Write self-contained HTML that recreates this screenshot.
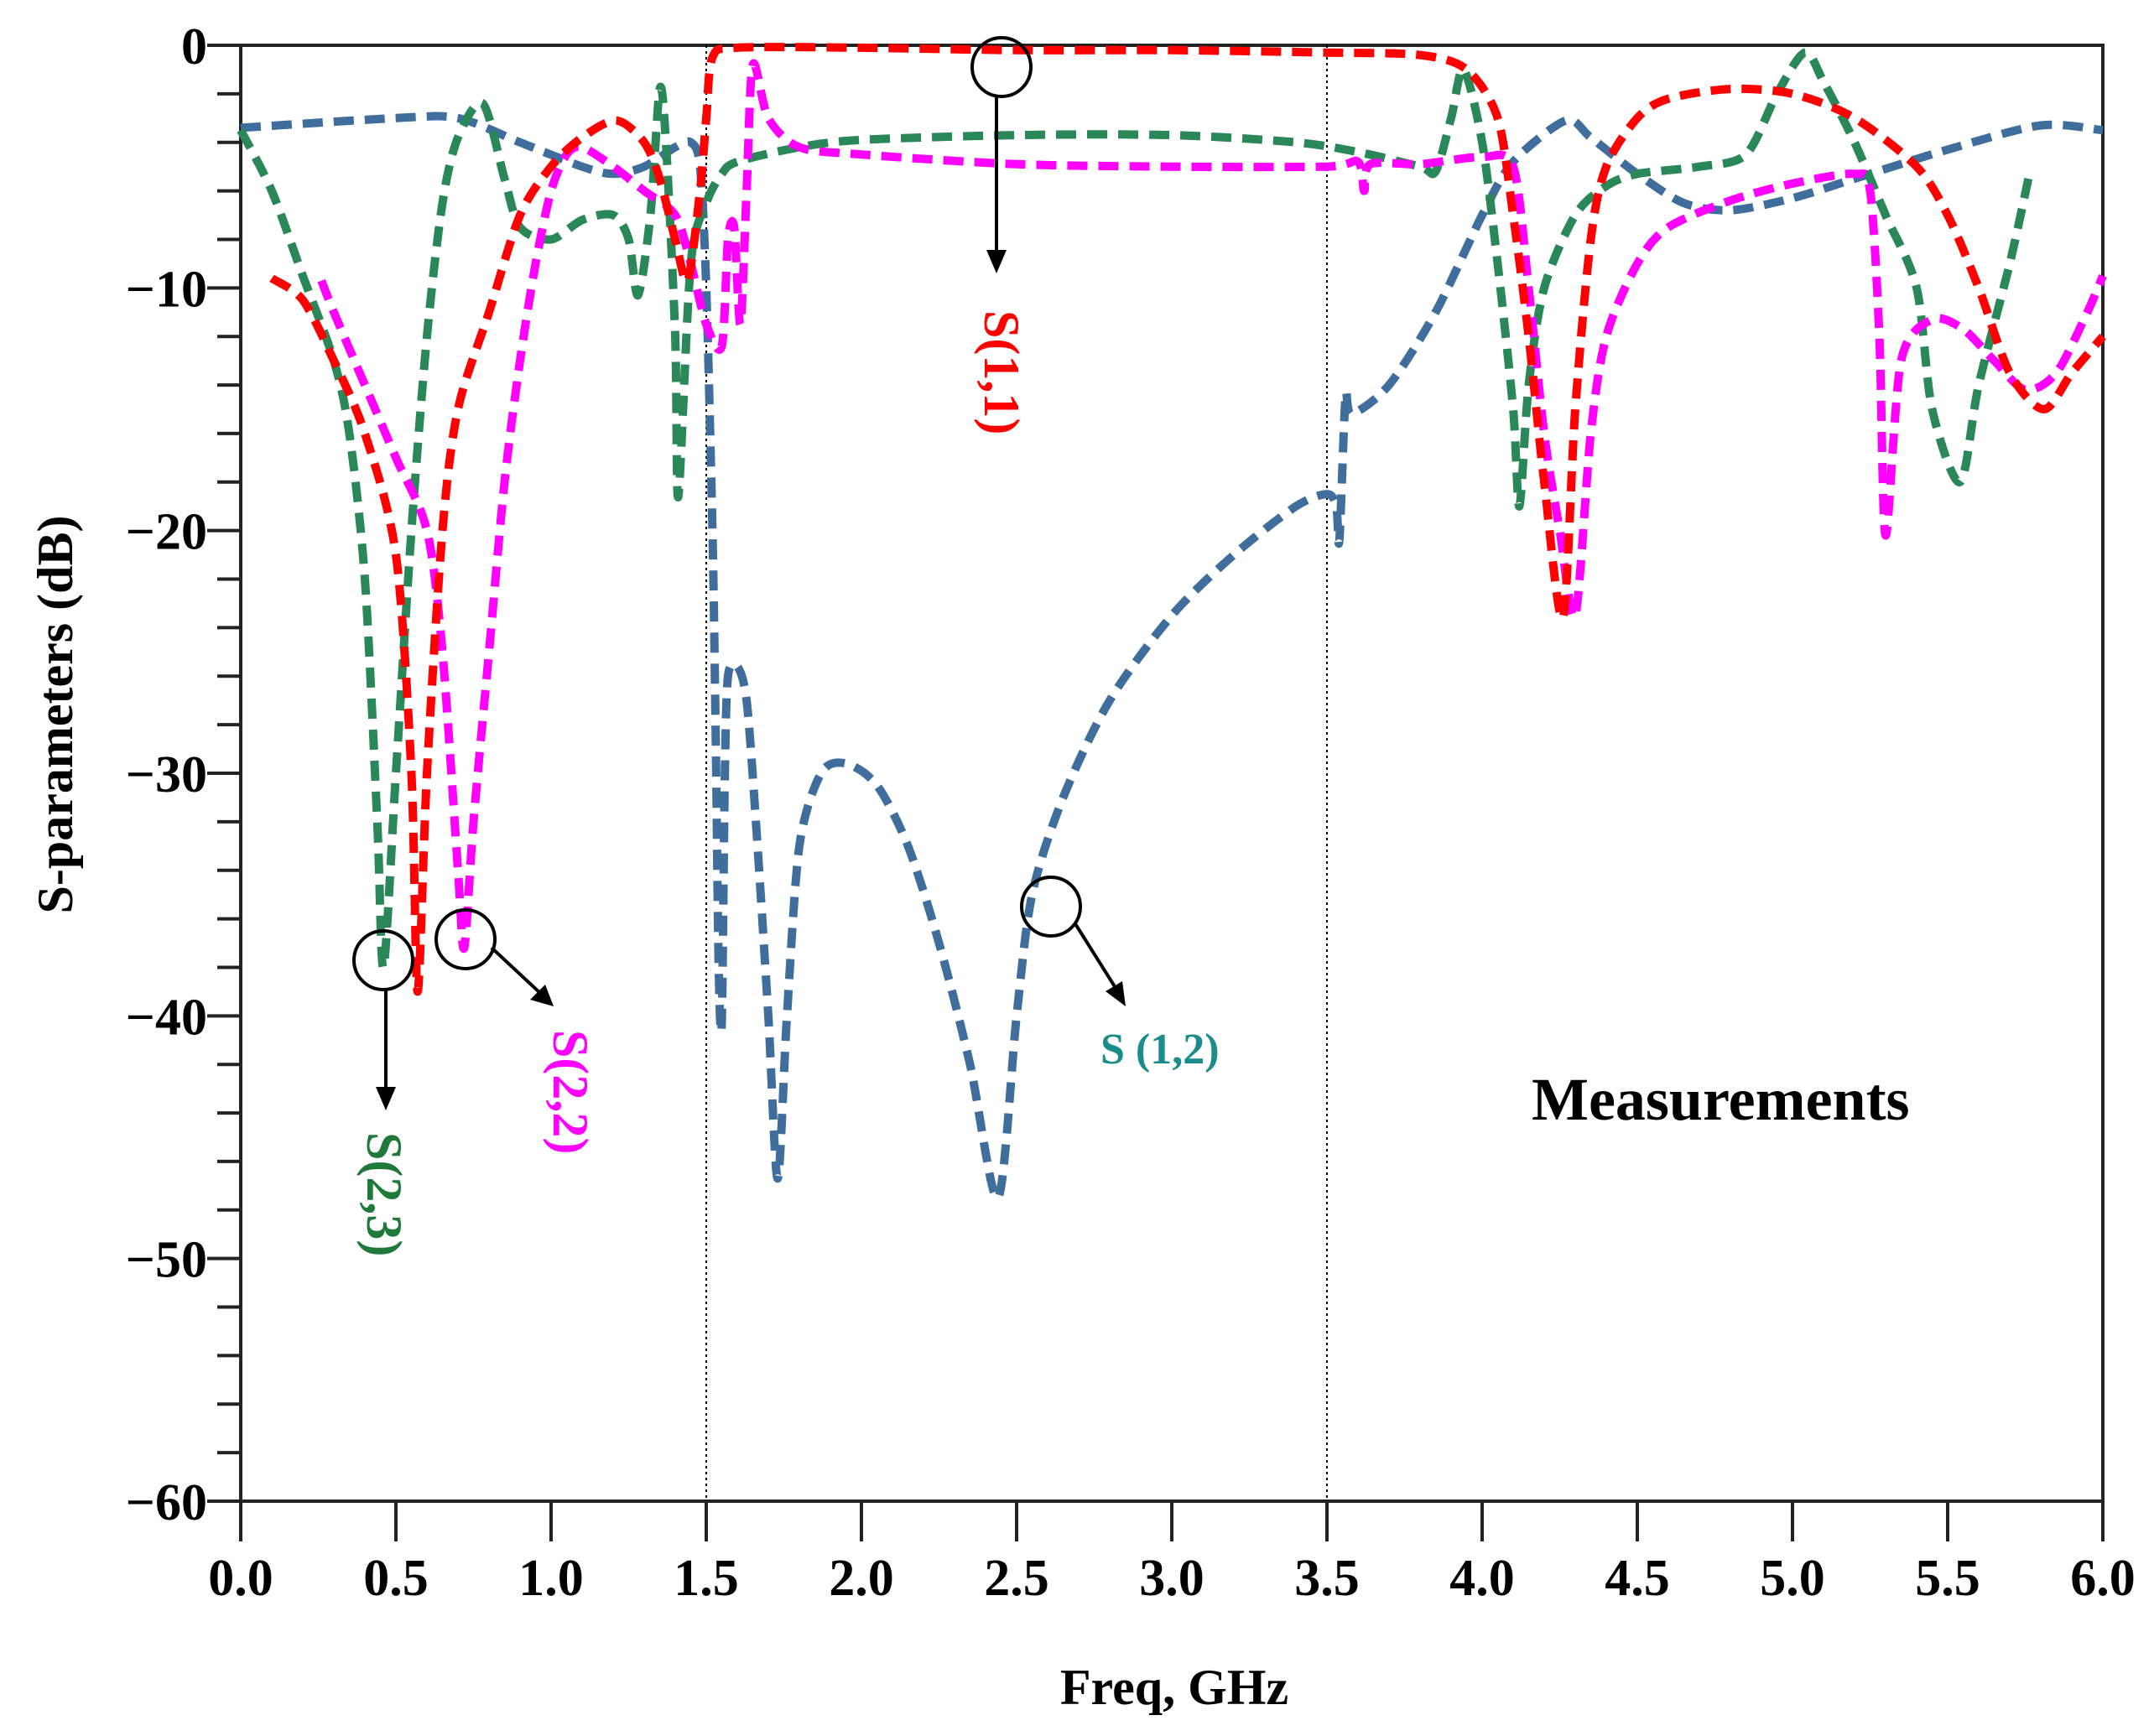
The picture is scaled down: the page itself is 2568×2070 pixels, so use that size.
<!DOCTYPE html>
<html><head><meta charset="utf-8"><style>
html,body{margin:0;padding:0;background:#fff;}
svg{display:block;}
text{font-family:"Liberation Serif",serif;font-weight:bold;}
</style></head><body>
<svg id="chart" width="2568" height="2070" viewBox="0 0 2568 2070" xmlns="http://www.w3.org/2000/svg">
<g id="axes"></g>
<g id="series"></g>
<g id="annot">
  <circle cx="1194" cy="80" r="35" fill="none" stroke="#000" stroke-width="4"/>
  <line x1="1188" y1="116" x2="1188" y2="300" stroke="#000" stroke-width="4"/>
  <polygon points="1176,298 1200,298 1188,326" fill="#000"/>
  <text transform="translate(1174,370) rotate(90)" font-size="60" fill="#ff0000">S(1,1)</text>

  <circle cx="457" cy="1145" r="35" fill="none" stroke="#000" stroke-width="4"/>
  <line x1="460" y1="1181" x2="460" y2="1298" stroke="#000" stroke-width="4"/>
  <polygon points="448,1296 472,1296 460,1324" fill="#000"/>
  <text transform="translate(438,1350) rotate(90)" font-size="60" fill="#1f7a3a">S(2,3)</text>

  <circle cx="555" cy="1120" r="35" fill="none" stroke="#000" stroke-width="4"/>
  <line x1="586" y1="1130" x2="645" y2="1185" stroke="#000" stroke-width="4"/>
  <polygon points="632,1192 650,1174 660,1200" fill="#000"/>
  <text transform="translate(660,1228) rotate(90)" font-size="60" fill="#ff00ff">S(2,2)</text>

  <circle cx="1253" cy="1081" r="35" fill="none" stroke="#000" stroke-width="4"/>
  <line x1="1281" y1="1100" x2="1330" y2="1178" stroke="#000" stroke-width="4"/>
  <polygon points="1318,1182 1338,1170 1342,1200" fill="#000"/>
  <text x="1312" y="1268" font-size="52" fill="#1a8c8c">S (1,2)</text>

  <text x="1826" y="1335" font-size="72" fill="#000">Measurements</text>
</g>
</svg>
<script>
const freqTicks = [0,0.5,1,1.5,2,2.5,3,3.5,4,4.5,5,5.5,6];
const freqTickLabels = ["0.0","0.5","1.0","1.5","2.0","2.5","3.0","3.5","4.0","4.5","5.0","5.5","6.0"];
const dbTicks = [0,-10,-20,-30,-40,-50,-60];
const dbTickLabels = ["0","\u221210","\u221220","\u221230","\u221240","\u221250","\u221260"];
const markerLines = [1.5,3.5];

const s11Freq = [0.1,0.2,0.3,0.4,0.5,0.55,0.57,0.6,0.65,0.7,0.8,0.9,1.0,1.1,1.21,1.3,1.35,1.4,1.44,1.48,1.5,1.52,1.6,2.0,2.5,3.0,3.5,3.8,3.95,4.05,4.1,4.15,4.2,4.26,4.3,4.35,4.4,4.5,4.6,4.8,5.0,5.2,5.4,5.5,5.6,5.7,5.81,5.9,6.0];
const s11Db = [-9.6,-10.5,-13,-16,-21,-30,-39,-30,-20,-15,-11,-7,-5,-3.8,-3.1,-4,-5.5,-8,-9.7,-6,-3,-0.5,-0.1,-0.1,-0.2,-0.2,-0.3,-0.4,-1,-3,-7,-12,-18,-23.6,-15,-8,-5,-3,-2.2,-1.8,-2.0,-3,-5,-7,-10,-13.5,-15,-13.5,-12];

const s22Freq = [0.26,0.3,0.4,0.5,0.6,0.65,0.7,0.72,0.75,0.8,0.85,0.9,0.95,1.0,1.05,1.1,1.2,1.3,1.4,1.45,1.5,1.55,1.57,1.59,1.61,1.63,1.65,1.7,1.8,2.0,2.5,3.0,3.5,3.6,3.62,3.64,3.8,4.0,4.1,4.15,4.2,4.25,4.3,4.35,4.4,4.5,4.6,4.8,5.0,5.2,5.25,5.28,5.3,5.35,5.45,5.55,5.65,5.75,5.85,5.95,6.0];
const s22Db = [-9.7,-11,-14,-17,-20,-25,-34,-37.2,-32,-25,-18,-13,-9,-6,-4.5,-4.2,-5,-6,-7,-9,-11.5,-12.4,-8,-7.5,-11.5,-6,-0.8,-3,-4.2,-4.5,-4.9,-5,-5,-4.8,-6,-4.9,-4.9,-4.6,-5,-10,-16,-20,-23.5,-16,-12,-9,-7.5,-6.4,-5.7,-5.3,-6,-12,-20.2,-13,-11.3,-11.7,-13,-14.2,-13.5,-11,-9.5];

const s23Freq = [0,0.1,0.2,0.3,0.35,0.4,0.44,0.46,0.5,0.55,0.6,0.65,0.7,0.78,0.85,0.9,1.0,1.1,1.2,1.25,1.28,1.32,1.35,1.37,1.4,1.41,1.45,1.5,1.55,1.6,1.8,2.0,2.5,3.0,3.4,3.6,3.8,3.85,3.9,3.94,4.0,4.05,4.1,4.12,4.15,4.2,4.3,4.4,4.5,4.7,4.85,4.95,5.04,5.1,5.2,5.3,5.4,5.45,5.54,5.6,5.7,5.76];
const s23Db = [-3.5,-6,-9.5,-13,-16,-22,-32,-38,-30,-20,-12,-6.5,-3.8,-2.4,-5.5,-7.5,-8,-7.2,-7,-8,-10.3,-7,-1.8,-4,-12,-18.6,-9,-6.5,-5.3,-4.8,-4.2,-3.9,-3.7,-3.7,-4,-4.4,-5,-5.2,-3,-1,-4,-9,-15,-19,-14,-10,-7,-5.8,-5.3,-5,-4.5,-2,-0.3,-1.5,-4,-7,-10,-15,-18,-14,-9,-5.5];

const s12Freq = [0,0.5,0.7,0.9,1.1,1.2,1.3,1.4,1.45,1.48,1.5,1.52,1.53,1.54,1.55,1.56,1.57,1.6,1.63,1.66,1.7,1.73,1.76,1.8,1.87,1.95,2.05,2.15,2.25,2.35,2.44,2.5,2.55,2.65,2.8,3.0,3.2,3.4,3.5,3.53,3.54,3.56,3.58,3.7,3.85,4.0,4.1,4.27,4.35,4.5,4.65,4.8,5.0,5.2,5.5,5.8,6.0];
const s12Db = [-3.4,-3,-3,-4,-5,-5.3,-5,-4.2,-4,-5,-10,-20,-28,-38,-40.3,-30,-26,-25.6,-27,-32,-40,-46.7,-40,-33,-30,-29.6,-30.5,-33,-37,-42,-47.5,-40,-35,-31,-27,-23.5,-21,-19,-18.5,-19,-20.4,-14.5,-15.2,-14,-11,-7,-4.8,-3.1,-3.8,-5.3,-6.5,-6.8,-6.3,-5.5,-4.3,-3.3,-3.5];

const X0=287, X1=2507, Y0=54, Y1=1790;
function xS(f){return X0+(f-0)/(6-0)*(X1-X0);}
function yS(d){return Y0+(0-d)/(60)*(Y1-Y0);}
const NS="http://www.w3.org/2000/svg";
function mk(tag,attrs,parent){const e=document.createElementNS(NS,tag);for(const k in attrs)e.setAttribute(k,attrs[k]);parent.appendChild(e);return e;}
const axes=document.getElementById('axes');
const ser=document.getElementById('series');

let fr=mk('rect',{x:X0,y:Y0,width:X1-X0,height:Y1-Y0,fill:'none',stroke:'#222','stroke-width':4},axes);



markerLines.forEach(f=>{
  const l=mk('line',{x1:xS(f),x2:xS(f),y1:Y0,y2:Y1,stroke:'#000','stroke-width':2,'stroke-dasharray':'3,4'},axes);
  
  
});

freqTicks.forEach((f,i)=>{
  const t=mk('line',{x1:xS(f),x2:xS(f),y1:Y1,y2:Y1+48,stroke:'#222','stroke-width':4},axes);
  
  
  const tx=mk('text',{x:xS(f),y:Y1+112,'font-size':62,'text-anchor':'middle'},axes);
  tx.textContent=freqTickLabels[i];
  
  
});
for(let d=0; d>=-60; d-=2){
  const major = d%10===0;
  const t=mk('line',{x1:X0-(major?40:28),x2:X0,y1:yS(d),y2:yS(d),stroke:'#222','stroke-width':4},axes);
  
  
}
dbTicks.forEach((d,i)=>{
  const tx=mk('text',{x:X0-40,y:yS(d)+22,'font-size':62,'text-anchor':'end'},axes);
  tx.textContent=dbTickLabels[i];
  
  
});
const xt=mk('text',{x:1400,y:2032,'font-size':60,'text-anchor':'middle'},axes);
xt.textContent='Freq, GHz';


const yt=mk('text',{transform:'translate(86,852) rotate(-90)','font-size':60,'text-anchor':'middle'},axes);
yt.textContent='S-parameters (dB)';



function line(fr,db,color,name){
  const P=fr.map((f,i)=>[xS(f),yS(db[i])]);
  let d='M'+P[0][0].toFixed(1)+','+P[0][1].toFixed(1);
  for(let i=0;i<P.length-1;i++){
    const p0=P[i-1]||P[i], p1=P[i], p2=P[i+1], p3=P[i+2]||P[i+1];
    const k=1/7;
    const c1=[p1[0]+(p2[0]-p0[0])*k, p1[1]+(p2[1]-p0[1])*k];
    const c2=[p2[0]-(p3[0]-p1[0])*k, p2[1]-(p3[1]-p1[1])*k];
    d+=' C'+c1[0].toFixed(1)+','+c1[1].toFixed(1)+' '+c2[0].toFixed(1)+','+c2[1].toFixed(1)+' '+p2[0].toFixed(1)+','+p2[1].toFixed(1);
  }
  const p=mk('path',{d:d,fill:'none',stroke:color,'stroke-width':10,'stroke-dasharray':'24,13','stroke-linejoin':'round'},ser);
  
  
}
line(s12Freq,s12Db,'#3f6e9c','s12-line');
line(s23Freq,s23Db,'#2a8757','s23-line');
line(s22Freq,s22Db,'#ff00ff','s22-line');
line(s11Freq,s11Db,'#ff0000','s11-line');
</script>
</body></html>
